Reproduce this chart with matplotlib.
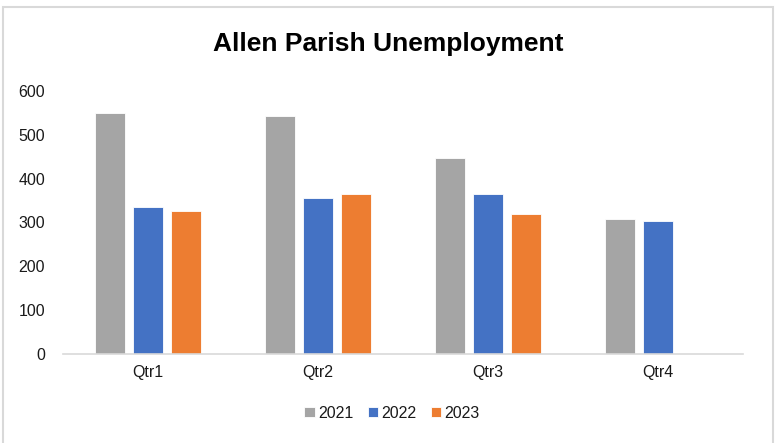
import numpy as np
import matplotlib
matplotlib.use("Agg")
import matplotlib.pyplot as plt
from matplotlib.patches import Rectangle

categories = ["Qtr1", "Qtr2", "Qtr3", "Qtr4"]
series_names = ["2021", "2022", "2023"]
v2021 = [550, 543, 447, 308]
v2022 = [334, 356, 365, 302]
v2023 = [325, 364, 318, np.nan]
colors = ["#A5A5A5", "#4472C4", "#ED7D31"]

plt.rcParams['font.family'] = ['Liberation Sans', 'DejaVu Sans']

fig = plt.figure(figsize=(7.76, 4.43), dpi=100)
ax = fig.add_axes([63/776, 89.3/443, 680/776, 262.7/443])

x = np.arange(len(categories))
w = 0.174
off = 0.222
for i, (name, vals) in enumerate(zip(series_names, [v2021, v2022, v2023])):
    ax.bar(x + (i - 1) * off, vals, width=w, color=colors[i], label=name,
           edgecolor='white', linewidth=0.6)

ax.set_xlim(-0.5, 3.5)
ax.set_ylim(0, 600)
ax.set_yticks(range(0, 601, 100))
ax.set_xticks(x)
ax.set_xticklabels(categories)
for s in ['top', 'right', 'left']:
    ax.spines[s].set_visible(False)
ax.spines['bottom'].set_color('#D9D9D9')
ax.spines['bottom'].set_linewidth(1.2)
ax.tick_params(axis='both', length=0, labelsize=11.5, labelcolor='#1a1a1a')
ax.tick_params(axis='y', pad=13)
ax.tick_params(axis='x', pad=8)

fig.text(0.5, 1 - 44/443, "Allen Parish Unemployment", ha='center', va='center',
         fontsize=19, fontweight='bold', color='black')

leg = fig.legend(loc='center', bbox_to_anchor=(392/776, 1 - 413/443), ncol=3,
                 frameon=False, fontsize=11.5, handlelength=0.65, handleheight=0.65,
                 handletextpad=0.2, columnspacing=0.9)
for t in leg.get_texts():
    t.set_color('#1a1a1a')

fig.patches.append(Rectangle((3.5/776, -5/443), 769/776, (443 - 6.5 + 5)/443,
                             transform=fig.transFigure, fill=False,
                             edgecolor='#D9D9D9', linewidth=1.5))

fig.savefig("out.png", dpi=100)
